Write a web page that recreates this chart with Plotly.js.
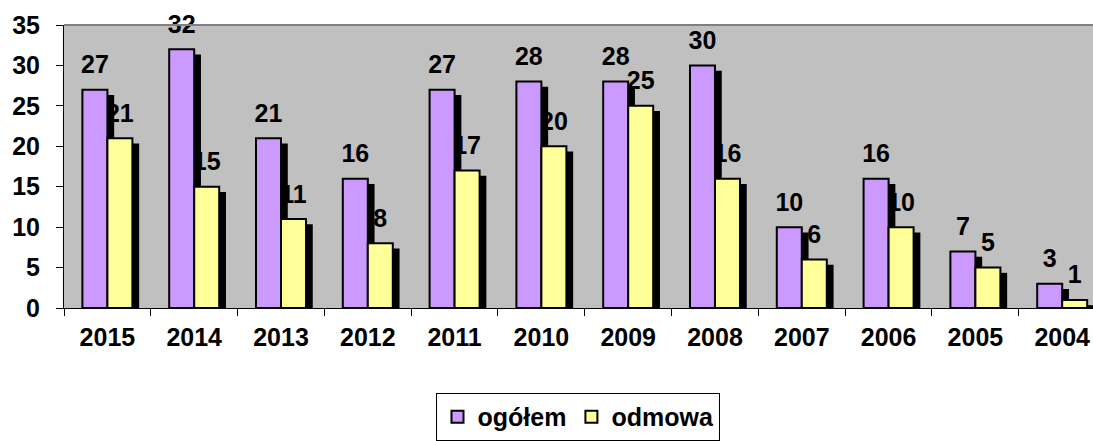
<!DOCTYPE html>
<html>
<head>
<meta charset="utf-8">
<script src="https://cdn.plot.ly/plotly-3.0.1.min.js"></script>
<style>html,body{margin:0;padding:0;background:#fff;}#chart{width:1093px;height:441px;}</style>
</head>
<body>
<div id="chart"></div>
<script>
// ---- data ----
var years = ["2015","2014","2013","2012","2011","2010","2009","2008","2007","2006","2005","2004"];
var ogolem = [27, 32, 21, 16, 27, 28, 28, 30, 10, 16, 7, 3];
var odmowa = [21, 15, 11, 8, 17, 20, 25, 16, 6, 10, 5, 1];
var seriesNames = ["ogółem", "odmowa"];
var yTicks = [0, 5, 10, 15, 20, 25, 30, 35];

// ---- style ----
var FONT = "Liberation Sans, Arial, sans-serif";
var FS = 25;
var BAR_W = 0.288;
var SHADOW_DX = 0.078;   // horizontal shadow shift (category units)
var SHADOW_DY = 0.65;    // vertical shadow drop (value units)
var LABEL_GAP = 1.05;    // label lift above bar (value units)
var X_RANGE = [-0.5, 11.355];
var Y_RANGE = [0, 35];
var colors = ["#CC99FF", "#FFFF99"];
var offsets = [-BAR_W, 0];
var series = [ogolem, odmowa];

var traces = [];
// labels on the base subplot (drawn underneath shadows and bars)
series.forEach(function (vals, i) {
  traces.push({
    type: "bar", x: years, y: vals.map(function (v) { return v + LABEL_GAP; }),
    xaxis: "x", yaxis: "y",
    text: vals.map(String), textposition: "outside", constraintext: "none",
    textfont: {family: FONT, size: FS, color: "#000", weight: "bold"},
    offset: offsets[i], width: BAR_W,
    marker: {color: "rgba(0,0,0,0)", line: {width: 0}},
    showlegend: false, hoverinfo: "skip", cliponaxis: false
  });
});
// shadows on overlay subplot
series.forEach(function (vals, i) {
  traces.push({
    type: "bar", x: years, y: vals.map(function (v) { return Math.max(v - SHADOW_DY, 0); }),
    xaxis: "x2", yaxis: "y2",
    offset: offsets[i] + SHADOW_DX, width: BAR_W,
    marker: {color: "#000", line: {width: 0}},
    showlegend: false, hoverinfo: "skip"
  });
});
// bars on overlay subplot
series.forEach(function (vals, i) {
  traces.push({
    type: "bar", x: years, y: vals, name: seriesNames[i],
    xaxis: "x2", yaxis: "y2",
    offset: offsets[i], width: BAR_W,
    marker: {color: colors[i], line: {color: "#000", width: 2}},
    textposition: "none"
  });
});

var tf = {family: FONT, size: FS, color: "#000", weight: "bold"};
var layout = {
  width: 1093, height: 441,
  margin: {l: 64, r: 0, t: 25, b: 129, pad: 0},
  paper_bgcolor: "#ffffff", plot_bgcolor: "#C0C0C0",
  barmode: "overlay",
  font: tf,
  xaxis: {
    type: "category", categoryorder: "array", categoryarray: years,
    range: X_RANGE, tickson: "boundaries",
    ticks: "outside", ticklen: 7, tickcolor: "#000", tickwidth: 1,
    showline: true, linecolor: "#000", linewidth: 1, layer: "above traces",
    showgrid: false, zeroline: false, ticklabelstandoff: 7,
    tickfont: tf
  },
  yaxis: {
    range: Y_RANGE, tickvals: yTicks, ticktext: yTicks.map(String),
    ticks: "outside", ticklen: 7, tickcolor: "#000", tickwidth: 1,
    showline: true, linecolor: "#000", linewidth: 1,
    showgrid: false, zeroline: false, ticklabelstandoff: 11,
    tickfont: tf
  },
  xaxis2: {
    type: "category", categoryorder: "array", categoryarray: years,
    range: X_RANGE, overlaying: "x", visible: false, showgrid: false, zeroline: false
  },
  yaxis2: {
    range: Y_RANGE, overlaying: "y", visible: false, showgrid: false, zeroline: false
  },
  showlegend: true,
  legend: {
    orientation: "h", x: 0.362, xanchor: "left", y: -0.30, yanchor: "top",
    bgcolor: "#fff", bordercolor: "#000", borderwidth: 1,
    font: tf, traceorder: "normal", itemwidth: 30
  },
  shapes: [{type: "line", xref: "paper", yref: "paper", x0: 0, x1: 1, y0: 1, y1: 1,
            line: {color: "#808080", width: 2}}]
};

Plotly.newPlot("chart", traces, layout, {staticPlot: true, displayModeBar: false});
</script>
</body>
</html>
